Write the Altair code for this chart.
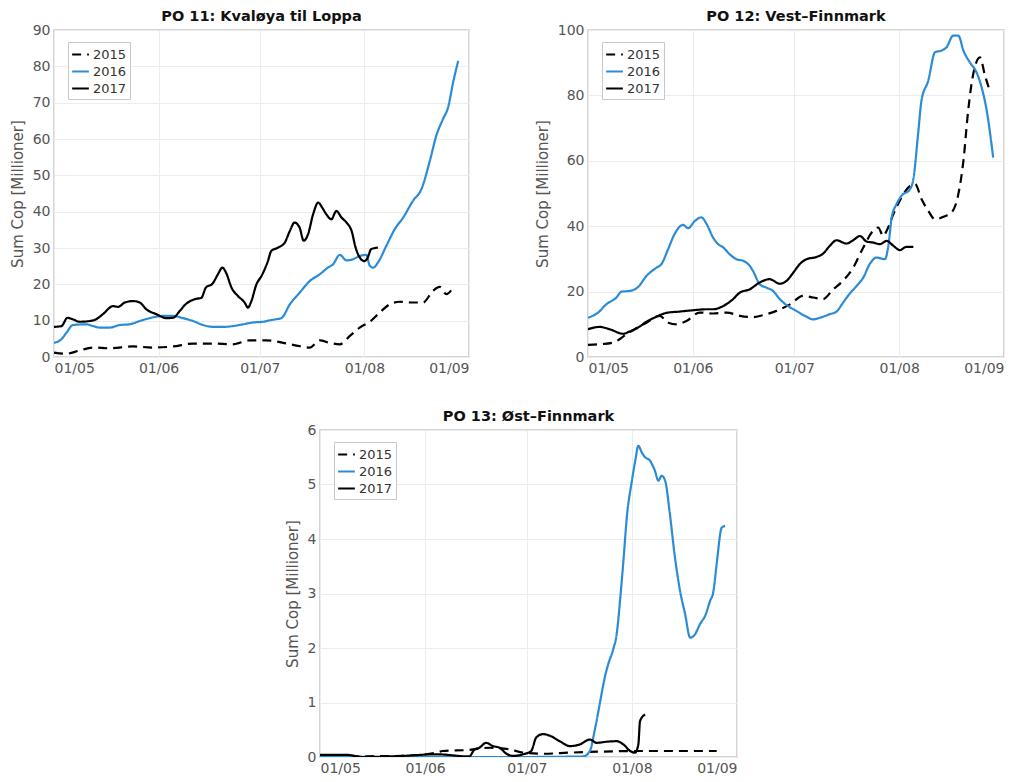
import altair as alt
import pandas as pd

# ---------------- data (day offsets from 1 May, values in millions) ----------------
YEARS = ["2015", "2016", "2017"]
COLORS = ["#000000", "#2c8bd5", "#000000"]

# PO 11
p11_2015_day = [0, 3.7, 7.6, 11.6, 16.5, 23.4, 29.3, 35.3, 41.2, 47.1, 53, 58, 62.9, 67.9, 72.8, 75.8,
                78.8, 81.7, 84.7, 87.7, 90.6, 93.6, 96.5, 99.5, 102.5, 106.4, 109.4, 112.3, 114.3, 116.3, 118.3]
p11_2015_val = [1.2, 0.9, 1.8, 2.6, 2.4, 2.9, 2.6, 2.9, 3.7, 3.7, 3.5, 4.6, 4.6, 3.9, 3.0, 2.6,
                4.6, 3.9, 3.5, 5.8, 8.1, 9.7, 12.2, 14.5, 15.2, 15.0, 15.0, 18.2, 19.3, 17.3, 19.1]
p11_2016_day = [0, 2.2, 3.7, 5.6, 9.6, 11.6, 13.5, 16.5, 19.5, 22.4, 25.4, 28.4, 32.3, 35.3, 38.2, 41.2,
                44.2, 47.1, 50.1, 53, 56, 59, 62, 64, 65.9, 67.4, 69.9, 72.8, 75.8, 78.8, 81.2, 82.7,
                84.7, 86.7, 88.6, 90.6, 92.6, 93.6, 94.6, 96, 98.5, 101, 103.5, 106.4, 108.9, 111.4,
                113.3, 115.3, 116.8, 118.3, 119.8]
p11_2016_val = [3.9, 4.9, 6.7, 8.8, 9.0, 8.5, 8.1, 8.1, 8.8, 9.0, 9.9, 10.7, 11.3, 11.3, 10.7, 9.9,
                8.8, 8.3, 8.3, 8.5, 9.0, 9.5, 9.7, 10.1, 10.4, 10.7, 14.5, 17.7, 20.9, 22.8, 24.6, 25.5,
                28.1, 26.6, 26.9, 27.8, 28.1, 25.1, 24.6, 26.0, 30.6, 35.2, 38.4, 43.0, 46.2, 54.0,
                60.9, 65.5, 68.7, 75.6, 81.5]
p11_2017_day = [0, 2.2, 4, 5.5, 7.6, 10.6, 12.5, 14.5, 17.5, 19, 21, 23.4, 25.4, 27.4, 30.3, 33.3,
                35.3, 37.3, 39, 41.7, 43.7, 45, 47, 48.6, 49.9, 51, 52.6, 54.5, 56.5, 57.5, 58.5, 60,
                61.5, 63.4, 64.4, 66.4, 68.4, 69.9, 71.3, 72.8, 74, 75.3, 76.8, 78.3, 79.5, 80.7, 82.2,
                83.7, 85.2, 86.7, 88.2, 89.4, 90.6, 92, 93, 94, 96]
p11_2017_val = [8.3, 8.5, 10.8, 10.4, 9.7, 9.9, 10.4, 11.8, 14.0, 13.8, 15.0, 15.4, 15.0, 13.1, 11.8, 10.7,
                10.8, 12.7, 14.5, 15.9, 16.3, 19.1, 20.2, 22.8, 24.6, 23.2, 19.1, 16.8, 15.0, 13.6, 15.4, 20.0,
                22.3, 26.4, 29.2, 30.1, 31.5, 34.7, 37.0, 35.6, 32.0, 33.8, 39.3, 42.5, 41.1, 39.3, 37.9,
                40.2, 38.4, 37.0, 34.7, 30.1, 27.4, 26.4, 27.4, 29.7, 30.1]

# PO 12
p12_2015_day = [0, 3.5, 7.4, 11.3, 13.8, 17.3, 21.2, 23.7, 26.2, 29.1, 33, 37, 41, 44.9, 48.8, 52.8,
                55.7, 59.7, 63.6, 66.6, 69.5, 72.5, 75.4, 78.4, 81.4, 84.3, 85.8, 87.3, 88.3, 90.3, 92.7,
                95.2, 96.7, 98.6, 100.6, 102.6, 105.1, 107.5, 109.5, 111, 112.4, 113.9, 115.9, 117.4, 118.8]
p12_2015_val = [3.7, 3.9, 4.4, 6.9, 8.5, 10.5, 12.6, 10.5, 10.0, 11.0, 13.6, 13.3, 13.6, 12.6, 12.2, 13.1,
                14.1, 16.1, 18.7, 18.2, 17.7, 20.7, 23.3, 27.3, 33.5, 38.6, 39.6, 37.0, 38.6, 43.7, 48.8,
                52.3, 52.9, 48.3, 44.7, 42.1, 42.9, 44.2, 49.8, 60.0, 75.3, 86.5, 91.6, 86.0, 81.4]
p12_2016_day = [0, 3, 5.4, 8.4, 9.9, 12.3, 14.8, 17.3, 20.2, 21.7, 23.7, 25.6, 28.1, 29.6, 31.6, 33.5,
                35, 37, 38.5, 40, 41.9, 43.9, 45.9, 47.8, 48.8, 50.8, 52.8, 54.7, 56.7, 58.7, 61.6, 64.1,
                66.6, 68.5, 71.5, 73.5, 75.4, 77.4, 79.4, 81.4, 83.3, 85.3, 87.8, 88.8, 89.8, 91.2, 92.7,
                95.2, 96.2, 97.6, 98.6, 100.6, 102.6, 104.5, 106, 108, 109.5, 111, 112.9, 114.9, 116.4,
                117.9, 119.8]
p12_2016_val = [12.0, 13.6, 16.1, 18.2, 20.0, 20.2, 21.4, 24.8, 27.3, 28.4, 33.0, 37.6, 40.4, 39.4, 41.6, 42.7,
                40.8, 36.5, 34.5, 33.5, 31.4, 29.9, 29.4, 27.9, 26.3, 22.2, 21.2, 20.2, 17.7, 15.9, 14.1, 12.6,
                11.5, 12.0, 13.1, 13.9, 16.6, 19.4, 21.7, 24.3, 28.4, 30.4, 29.9, 34.0, 42.7, 46.7, 49.3,
                51.3, 54.4, 68.2, 78.4, 84.5, 93.2, 93.7, 94.7, 98.3, 98.3, 93.7, 90.1, 87.0, 82.4,
                75.3, 61.0]
p12_2017_day = [0, 3.5, 6.4, 10.4, 12.3, 14.8, 17.3, 20.2, 23.2, 27.1, 31.1, 35, 37, 40, 42.9, 44.9,
                47.8, 50.8, 53.7, 56.7, 58.7, 60.7, 62.6, 64.6, 67.6, 69.5, 71.5, 73.5, 76.4, 78.4, 80.4,
                82.4, 84.3, 86.3, 88.3, 90.3, 92.2, 94.2, 96.2]
p12_2017_val = [8.5, 9.2, 8.5, 7.1, 7.8, 9.0, 10.8, 12.3, 13.5, 13.9, 14.3, 14.6, 14.6, 15.6, 17.7, 19.7,
                20.7, 22.8, 23.8, 22.4, 23.3, 25.8, 28.4, 29.9, 30.6, 31.6, 34.0, 35.7, 34.7, 35.7, 37.0,
                35.3, 35.0, 34.5, 35.5, 34.0, 32.7, 33.7, 33.7]

# PO 13
p13_2015_day = [0, 24.4, 34.3, 36.2, 44, 50, 56, 59.9, 65.8, 73.7, 83.5, 93.4, 103.2, 117]
p13_2015_val = [0.01, 0.02, 0.08, 0.11, 0.13, 0.17, 0.14, 0.08, 0.06, 0.08, 0.10, 0.11, 0.11, 0.11]
p13_2016_day = [0, 20, 40, 60, 77.6, 79.6, 81, 82.5, 84, 85, 86.5, 87.5, 88.5, 89.5, 90.5, 92, 93, 93.9,
                94.9, 95.9, 97.3, 98.8, 99.8, 100.8, 101.8, 103.2, 104.7, 106.2, 107.7, 109.2, 110.6,
                112.1, 113.6, 115.1, 116, 117, 118.5, 119.5]
p13_2016_val = [0.01, 0.0, 0.0, 0.0, 0.01, 0.11, 0.48, 0.97, 1.46, 1.70, 1.98, 2.25, 2.87, 3.60, 4.40, 5.07,
                5.44, 5.71, 5.59, 5.50, 5.44, 5.25, 5.07, 5.16, 5.07, 4.46, 3.66, 3.05, 2.62, 2.19, 2.25,
                2.44, 2.59, 2.87, 3.02, 3.54, 4.21, 4.24]
p13_2017_day = [0, 7.7, 12.6, 24.4, 34.3, 44, 45.6, 47, 49, 51, 53, 55, 57, 59.9, 62.3, 63.8, 65.8,
                67.8, 70.7, 73.7, 76.6, 79.6, 81.6, 84.5, 87.5, 89.5, 91.5, 92.9, 93.9, 94.4, 95.9]
p13_2017_val = [0.04, 0.04, 0.0, 0.02, 0.05, 0.01, 0.14, 0.17, 0.26, 0.20, 0.17, 0.06, 0.02, 0.05, 0.11,
                0.36, 0.42, 0.39, 0.29, 0.20, 0.23, 0.32, 0.26, 0.28, 0.29, 0.23, 0.11, 0.08, 0.23, 0.66, 0.78]

TICK_MONTHS = [5, 6, 7, 8, 9]
START = pd.Timestamp("2017-05-01")

FONT = "DejaVu Sans"
NBSP = "\u00a0"


def to_df(series):
    rows = []
    for year, (days, vals) in zip(YEARS, series):
        for d, v in zip(days, vals):
            t = START + pd.to_timedelta(d, unit="D")
            rows.append({"date": t.strftime("%Y-%m-%dT%H:%M:%S"), "value": v, "year": year})
    return pd.DataFrame(rows)


def panel(df, title, ymax, yvals, w, h):
    legend = alt.Legend(
        title=None, orient="none", legendX=14, legendY=12,
        symbolType="stroke", symbolStrokeWidth=2.2, symbolSize=280,
        labelFont=FONT, labelFontSize=13, labelColor="#333333", labelOffset=3,
        labelExpr="datum.label + '" + NBSP * 3 + "'",
        strokeColor="#c8c8c8", fillColor="white", padding=3, rowPadding=0,
    )
    return alt.Chart(df).mark_line(strokeWidth=2.2, clip=True, interpolate="monotone").encode(
        x=alt.X("date:T",
                scale=alt.Scale(domain=[alt.DateTime(year=2017, month=5, date=1),
                                        alt.DateTime(year=2017, month=9, date=1)]),
                axis=alt.Axis(title=None, format="%d/%m",
                              values=[alt.DateTime(year=2017, month=m, date=1) for m in TICK_MONTHS])),
        y=alt.Y("value:Q", scale=alt.Scale(domain=[0, ymax], nice=False, zero=True),
                axis=alt.Axis(title="Sum Cop [Millioner]", values=yvals)),
        color=alt.Color("year:N", scale=alt.Scale(domain=YEARS, range=COLORS), legend=legend),
        strokeDash=alt.StrokeDash("year:N",
                                  scale=alt.Scale(domain=YEARS, range=[[9, 6], [1, 0], [1, 0]]),
                                  legend=legend),
    ).properties(
        width=w, height=h,
        title=alt.TitleParams(title, font=FONT, fontSize=14.5, fontWeight="bold", color="#111111", offset=-1),
    )


c1 = panel(to_df([(p11_2015_day, p11_2015_val), (p11_2016_day, p11_2016_val), (p11_2017_day, p11_2017_val)]),
           "PO 11: Kvaløya til Loppa", 90, list(range(0, 91, 10)), 415, 327)
c2 = panel(to_df([(p12_2015_day, p12_2015_val), (p12_2016_day, p12_2016_val), (p12_2017_day, p12_2017_val)]),
           "PO 12: Vest\u2013Finnmark", 100, list(range(0, 101, 20)), 416, 327)
c3 = panel(to_df([(p13_2015_day, p13_2015_val), (p13_2016_day, p13_2016_val), (p13_2017_day, p13_2017_val)]),
           "PO 13: Øst\u2013Finnmark", 6, list(range(0, 7, 1)), 417, 327)

spacer = alt.Chart(pd.DataFrame({"a": [0]})).mark_point(opacity=0).encode(
    x=alt.value(0), y=alt.value(0)
).properties(width=229, height=10, view=alt.ViewBackground(stroke="transparent"))

top = alt.hconcat(c1, c2, spacing=64).resolve_legend(color="independent", strokeDash="independent")
bottom = alt.hconcat(spacer, c3, spacing=0).resolve_legend(color="independent", strokeDash="independent")

chart = alt.vconcat(top, bottom, spacing=31).resolve_legend(
    color="independent", strokeDash="independent"
).properties(
    padding={"left": 9, "top": 7, "right": 5, "bottom": 5}
).configure_view(
    stroke="#c8c8c8", strokeWidth=1.5
).configure_axis(
    labelFont=FONT, labelFontSize=14, labelColor="#555555",
    titleFont=FONT, titleFontSize=15, titleFontWeight="normal", titleColor="#555555",
    domain=False, ticks=False, labelPadding=4, titlePadding=7,
    grid=True, gridColor="#ececec", gridWidth=1,
)

chart.save("out.html", embed_options={"renderer": "svg", "actions": False})
